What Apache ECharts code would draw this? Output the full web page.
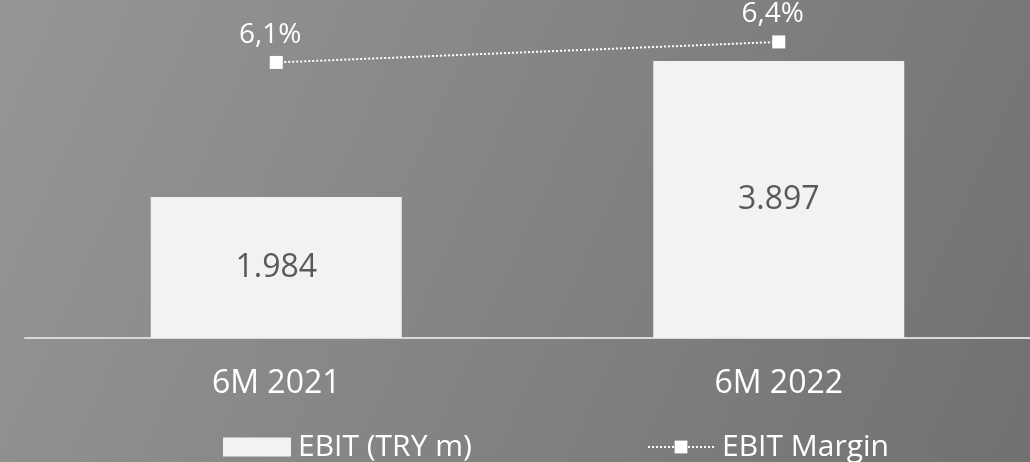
<!DOCTYPE html>
<html>
<head>
<meta charset="utf-8">
<script src="https://cdn.jsdelivr.net/npm/echarts@6/dist/echarts.min.js"></script>
<style>
html,body{margin:0;padding:0;width:1030px;height:462px;overflow:hidden;}
#chart{width:1030px;height:462px;}
</style>
</head>
<body>
<div id="chart"></div>
<script>
const categories = ['6M 2021', '6M 2022'];
const ebitValues = [1984, 3897];
const marginValues = [6.1, 6.4];
const seriesNames = ['EBIT (TRY m)', 'EBIT Margin'];

const fmtThousands = v => String(v).replace(/\B(?=(\d{3})+(?!\d))/g, '.');
const fmtPct = v => v.toFixed(1).replace('.', ',') + '%';

const chart = echarts.init(document.getElementById('chart'));
chart.setOption({
  animation: false,
  backgroundColor: {
    type: 'linear', x: 0, y: 0, x2: 1, y2: 1,
    colorStops: [{offset: 0, color: '#969696'}, {offset: 1, color: '#717171'}]
  },
  textStyle: {fontFamily: 'Open Sans'},
  grid: {left: 25, width: 1008, top: 18, bottom: 124},
  legend: [
    {
      data: [{name: seriesNames[0], icon: 'rect'}], left: 218, top: 427,
      itemWidth: 68, itemHeight: 19,
      textStyle: {color: '#ffffff', fontSize: 30, lineHeight: 30, padding: [0, 0, 0, 2], fontFamily: 'Open Sans'}
    },
    {
      data: [seriesNames[1]], left: 642, top: 427,
      itemWidth: 66, itemHeight: 16,
      textStyle: {color: '#ffffff', fontSize: 30, lineHeight: 30, padding: [0, 0, 0, 3], fontFamily: 'Open Sans'}
    }
  ],
  xAxis: {
    type: 'category', data: categories,
    axisLine: {lineStyle: {color: '#d9d9d9', width: 2}},
    axisTick: {show: false},
    axisLabel: {color: '#ffffff', fontSize: 32, margin: 30, fontFamily: 'Open Sans'}
  },
  yAxis: [
    {type: 'value', min: 0, max: 4500, show: false, splitLine: {show: false}},
    {type: 'value', min: 2.07, max: 6.75, show: false, splitLine: {show: false}}
  ],
  series: [
    {
      name: seriesNames[0], type: 'bar', data: ebitValues, barWidth: 251,
      itemStyle: {color: '#f2f2f2'},
      label: {show: true, position: 'inside', color: '#595959', fontSize: 32,
        fontFamily: 'Open Sans', formatter: p => fmtThousands(p.value)}
    },
    {
      name: seriesNames[1], type: 'line', yAxisIndex: 1, data: marginValues,
      symbol: 'rect', symbolSize: 13,
      itemStyle: {color: '#ffffff'},
      lineStyle: {color: '#ffffff', width: 2, type: 'dotted'},
      label: {show: true, position: 'top', distance: 7, offset: [-6, 0], color: '#ffffff',
        fontSize: 28, fontFamily: 'Open Sans', formatter: p => fmtPct(p.value)}
    }
  ]
});
</script>
</body>
</html>
